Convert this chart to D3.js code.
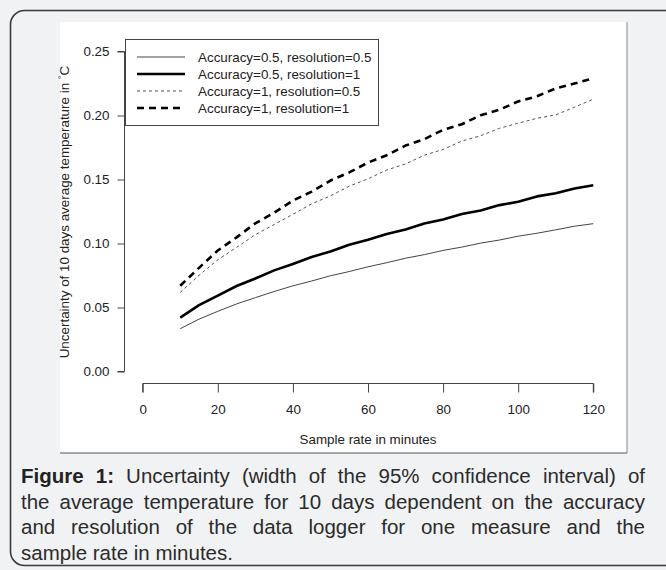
<!DOCTYPE html>
<html>
<head>
<meta charset="utf-8">
<script src="https://cdn.jsdelivr.net/npm/d3@7"></script>
<style>
  body { margin: 0; background: #f1f2f4; }
  #wrap { position: relative; width: 666px; height: 570px; overflow: hidden; }
  #caption {
    position: absolute; left: 21px; top: 463px; width: 624px;
    font-family: "Liberation Sans", Arial, sans-serif; font-size: 20.5px;
    line-height: 25.7px; color: #2b2b2b;
  }
  #caption .j { text-align: justify; text-align-last: justify; white-space: nowrap; }
  #caption b { color: #222; }
</style>
</head>
<body>
<div id="wrap">
  <div id="chart"></div>
  <div id="caption"></div>
</div>
<script>
const rates = [10, 15, 20, 25, 30, 35, 40, 45, 50, 55, 60, 65, 70, 75, 80, 85, 90, 95, 100, 105, 110, 115, 120];

const acc05res05 = [0.0334, 0.0409, 0.0470, 0.0528, 0.0577, 0.0625, 0.0669, 0.0707, 0.0748, 0.0781, 0.0818, 0.0850, 0.0885, 0.0913, 0.0946, 0.0972, 0.1003, 0.1027, 0.1057, 0.1080, 0.1107, 0.1135, 0.1155];
const acc05res1 = [0.0421, 0.0518, 0.0593, 0.0668, 0.0727, 0.0790, 0.0840, 0.0895, 0.0938, 0.0990, 0.1029, 0.1075, 0.1110, 0.1156, 0.1187, 0.1230, 0.1258, 0.1300, 0.1326, 0.1368, 0.1392, 0.1430, 0.1455];
const acc1res05 = [0.0618, 0.0752, 0.0873, 0.0970, 0.1069, 0.1148, 0.1228, 0.1310, 0.1372, 0.1448, 0.1505, 0.1574, 0.1622, 0.1690, 0.1735, 0.1800, 0.1842, 0.1900, 0.1940, 0.1978, 0.2005, 0.2065, 0.2128];
const acc1res1 = [0.0670, 0.0810, 0.0945, 0.1048, 0.1158, 0.1240, 0.1336, 0.1405, 0.1492, 0.1555, 0.1632, 0.1690, 0.1765, 0.1815, 0.1888, 0.1932, 0.2002, 0.2045, 0.2110, 0.2150, 0.2212, 0.2250, 0.2290];

const seriesNames = ["Accuracy=0.5, resolution=0.5", "Accuracy=0.5, resolution=1", "Accuracy=1, resolution=0.5", "Accuracy=1, resolution=1"];
const seriesValues = [acc05res05, acc05res1, acc1res05, acc1res1];
const seriesStyle = [
  {width: 1, color: "#444", dash: null},
  {width: 2.6, color: "#000", dash: null},
  {width: 1, color: "#555", dash: "3,3"},
  {width: 2.6, color: "#000", dash: "7,5"}
];

const xTicks = [0, 20, 40, 60, 80, 100, 120];
const yTicks = [0.00, 0.05, 0.10, 0.15, 0.20, 0.25];

const W = 666, H = 570;
const font = "'Liberation Sans', Arial, sans-serif";
const fs = 13.4;

const svg = d3.select("#chart").append("svg")
  .attr("width", W).attr("height", H)
  .style("display", "block");

svg.append("rect").attr("width", W).attr("height", H).attr("fill", "#f1f2f4");

// rounded frame
svg.append("rect")
  .attr("x", 10.5).attr("y", 10.5)
  .attr("width", 720).attr("height", 555)
  .attr("rx", 14)
  .attr("fill", "#f1f2f4")
  .attr("stroke", "#3a3a3a")
  .attr("stroke-width", 1.6);

// white image panel
svg.append("rect")
  .attr("x", 60).attr("y", 22).attr("width", 567).attr("height", 431)
  .attr("fill", "#fff");
svg.append("line").attr("x1", 627).attr("x2", 627).attr("y1", 22).attr("y2", 453)
  .attr("stroke", "#888").attr("stroke-width", 1);
svg.append("line").attr("x1", 60).attr("x2", 627).attr("y1", 453).attr("y2", 453)
  .attr("stroke", "#555").attr("stroke-width", 1);

const x = d3.scaleLinear().domain([0, 120]).range([142.7, 593.3]);
const y = d3.scaleLinear().domain([0, 0.25]).range([371.5, 51.5]);

// x axis (R style, offset below the plot)
const xAxis = svg.append("g")
  .attr("transform", "translate(0,383.5)")
  .call(d3.axisBottom(x).tickValues(xTicks).tickFormat(d3.format("d")).tickSize(9).tickPadding(12));
xAxis.selectAll("text").attr("font-family", font).attr("font-size", fs).attr("fill", "#222");
xAxis.selectAll("path,line").attr("stroke", "#444");
xAxis.select(".domain").attr("d", `M${x(0)},9V0H${x(120)}V9`);

// y axis
const yAxis = svg.append("g")
  .attr("transform", "translate(124.5,0)")
  .call(d3.axisLeft(y).tickValues(yTicks).tickFormat(d3.format(".2f")).tickSize(7).tickPadding(8));
yAxis.selectAll("text").attr("font-family", font).attr("font-size", fs).attr("fill", "#222");
yAxis.selectAll("path,line").attr("stroke", "#444");
yAxis.select(".domain").attr("d", `M-7,${y(0)}H0V${y(0.25)}H-7`);

// axis titles
svg.append("text")
  .attr("x", x(60)).attr("y", 444)
  .attr("text-anchor", "middle")
  .attr("font-family", font).attr("font-size", fs).attr("fill", "#222")
  .text("Sample rate in minutes");

const yt = svg.append("text")
  .attr("transform", "translate(69,212) rotate(-90)")
  .attr("text-anchor", "middle")
  .attr("font-family", font).attr("font-size", fs).attr("fill", "#222");
yt.append("tspan").text("Uncertainty of 10 days average temperature in ");
yt.append("tspan").attr("dy", -4).attr("font-size", 9.5).text("°");
yt.append("tspan").attr("dy", 4).text("C");

// lines
const line = d3.line()
  .x((d, i) => x(rates[i]))
  .y(d => y(d));

seriesValues.forEach((vals, k) => {
  const s = seriesStyle[k];
  svg.append("path")
    .datum(vals)
    .attr("d", line)
    .attr("fill", "none")
    .attr("stroke", s.color)
    .attr("stroke-width", s.width)
    .attr("stroke-dasharray", s.dash)
    .attr("stroke-linejoin", "round");
});

// legend
const lg = svg.append("g");
lg.append("rect")
  .attr("x", 125.5).attr("y", 39.5).attr("width", 253).attr("height", 86)
  .attr("fill", "#fff").attr("stroke", "#444").attr("stroke-width", 1);
const rowY = [57, 74, 91, 108];
seriesNames.forEach((name, k) => {
  const s = seriesStyle[k];
  lg.append("line")
    .attr("x1", 137).attr("x2", 185).attr("y1", rowY[k]).attr("y2", rowY[k])
    .attr("stroke", s.color).attr("stroke-width", s.width)
    .attr("stroke-dasharray", s.dash);
  lg.append("text")
    .attr("x", 198).attr("y", rowY[k]).attr("dy", "0.35em")
    .attr("font-family", font).attr("font-size", fs).attr("fill", "#222")
    .text(name);
});

// caption
const captionLines = [
  "Uncertainty (width of the 95% confidence interval) of",
  "the average temperature for 10 days dependent on the accuracy",
  "and resolution of the data logger for one measure and the",
  "sample rate in minutes."
];
const cap = d3.select("#caption");
captionLines.forEach((t, i) => {
  const div = cap.append("div").attr("class", i < 3 ? "j" : null);
  if (i === 0) {
    div.append("b").text("Figure 1:");
    div.append("span").text(" " + t);
  } else {
    div.text(t);
  }
});
</script>
</body>
</html>
